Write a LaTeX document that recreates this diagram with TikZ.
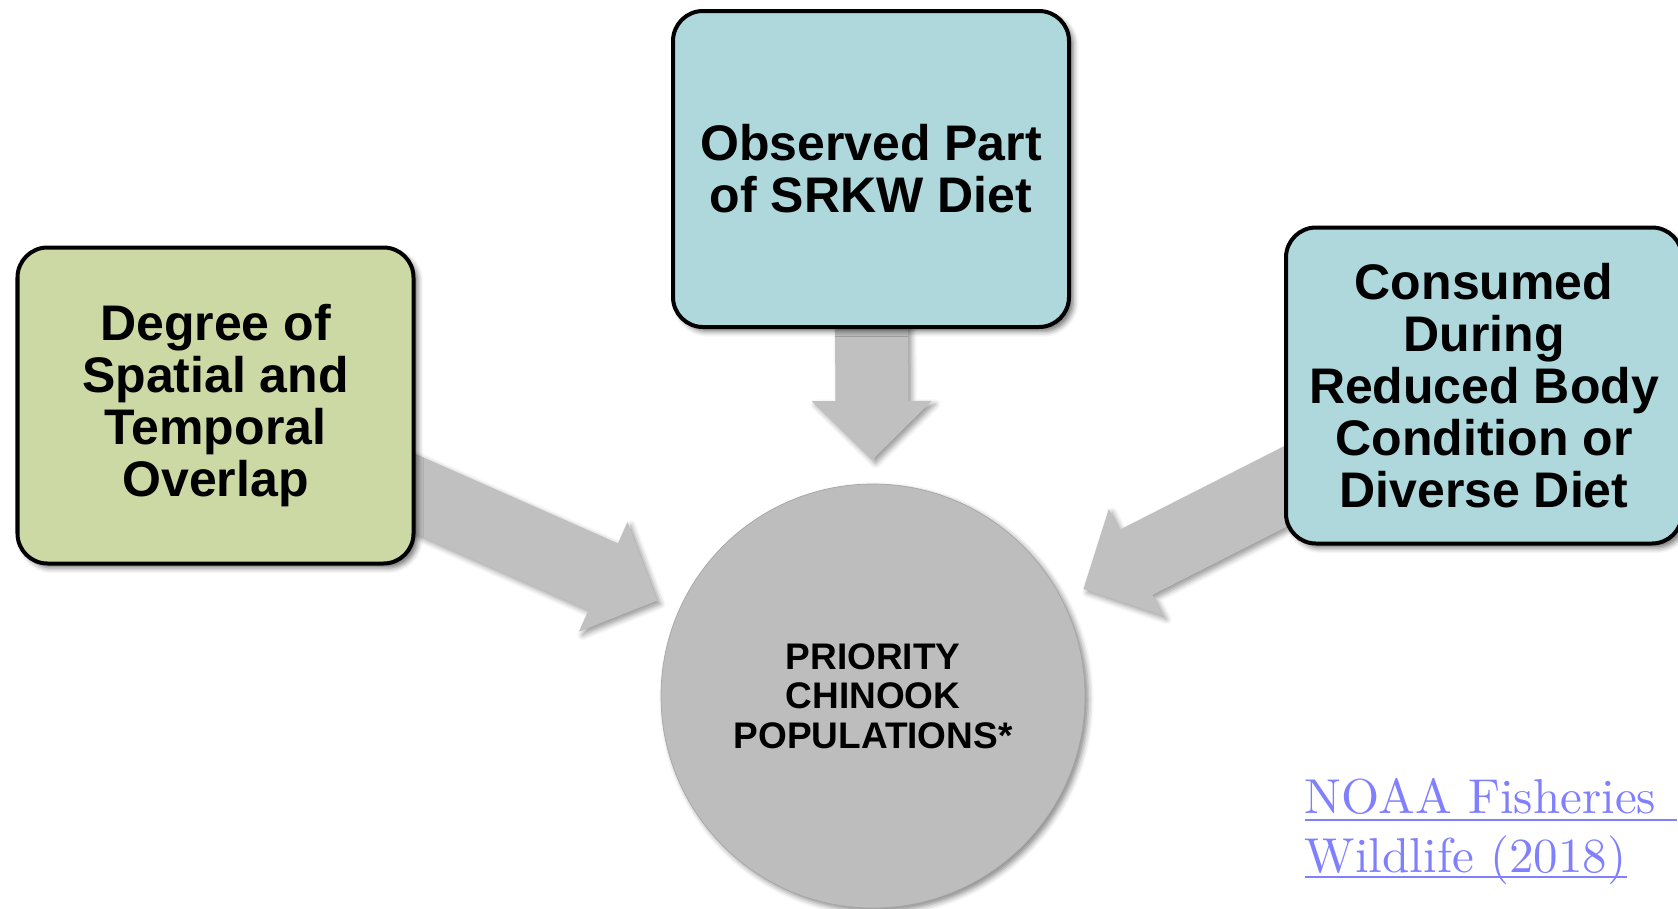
\documentclass[tikz,border=0pt]{standalone}
\usepackage{fontspec}
\newfontfamily\sansbold{Liberation Sans}
\newfontfamily\citefont{lmroman10-regular}[Extension=.otf]
\usetikzlibrary{calc, shadows.blur, backgrounds}
\definecolor{sage}{HTML}{CDD9A5}
\definecolor{mist}{HTML}{AED8DC}
\definecolor{shaftc}{HTML}{C0C0C0}
\definecolor{disc}{HTML}{BDBDBD}
\definecolor{linkc}{HTML}{8080FF}

% fat block arrow from a box towards the centre of the disc
\newcommand\blockarrow[2]{%
  \coordinate (#1-hb)  at ($(#2.center)!5.9cm!(#1.center)$);
  \coordinate (#1-tip) at ($(#2.center)!4.72cm!(#1.center)$);
  \fill[feed]
    ($(#1.center)!0.73cm!90:(#2.center)$) -- ($(#1-hb)!0.73cm!90:(#2.center)$)
    -- ($(#1-hb)!1.2cm!90:(#2.center)$) -- (#1-tip)
    -- ($(#1-hb)!1.2cm!-90:(#2.center)$) -- ($(#1-hb)!0.73cm!-90:(#2.center)$)
    -- ($(#1.center)!0.73cm!-90:(#2.center)$) -- cycle;}

\begin{document}
\begin{tikzpicture}[
  factor/.style={draw=black, line width=0.08cm, rounded corners=0.6cm,
                 minimum width=7.92cm, minimum height=6.32cm, align=center,
                 font=\sansbold\bfseries\fontsize{28.45}{29.6}\selectfont,
                 blur shadow={shadow xshift=2.5pt, shadow yshift=-2.5pt,
                              shadow blur radius=3pt, shadow opacity=55}},
  disc/.style={circle, fill=disc, draw=disc!88!black, line width=0.4pt,
               minimum size=8.48cm, inner sep=0pt, align=center,
               font=\sansbold\bfseries\fontsize{21.05}{22.5}\selectfont,
               blur shadow={shadow xshift=2pt, shadow yshift=-2pt,
                            shadow blur radius=3pt, shadow opacity=45}},
  feed/.style={fill=shaftc,
               blur shadow={shadow xshift=2pt, shadow yshift=-2pt,
                            shadow blur radius=3pt, shadow opacity=40}},
  cite/.style={text=linkc, inner sep=0pt, anchor=base west,
               font=\citefont\fontsize{27.9}{33.6}\selectfont},
  underl/.style={draw=linkc, line width=0.05cm},
]
\useasboundingbox (0,0) rectangle (33.56,-18.18);

% ── factors ──────────────────────────────────────────────────────────────────
\node[factor, fill=sage] (overlap) at (4.31,-8.11)
    {Degree of\\Spatial and\\Temporal\\Overlap};
\node[factor, fill=mist] (diet) at (17.42,-3.38)
    {Observed Part\\of SRKW Diet};
\node[factor, fill=mist] (stress) at (29.68,-7.71)
    {Consumed\\During\\Reduced Body\\Condition or\\Diverse Diet};

% ── priority disc ────────────────────────────────────────────────────────────
\node[disc] (pop) at (17.46,-13.92) {PRIORITY\\CHINOOK\\POPULATIONS*};

% ── arrows ───────────────────────────────────────────────────────────────────
\begin{scope}[on background layer]
  \blockarrow{overlap}{pop}
  \blockarrow{diet}{pop}
  \blockarrow{stress}{pop}
\end{scope}

% ── source ───────────────────────────────────────────────────────────────────
\node[cite] (src1) at (26.09,-16.26) {NOAA Fisheries};
\node[cite] (src2) at (26.09,-17.44) {Wildlife (2018)};
\draw[underl] ([yshift=-0.14cm]src1.base west) -- ([yshift=-0.14cm,xshift=0.4cm]src1.base east);
\draw[underl] ([yshift=-0.1cm]src2.base west) -- ([yshift=-0.1cm]src2.base east);

\end{tikzpicture}
\end{document}
